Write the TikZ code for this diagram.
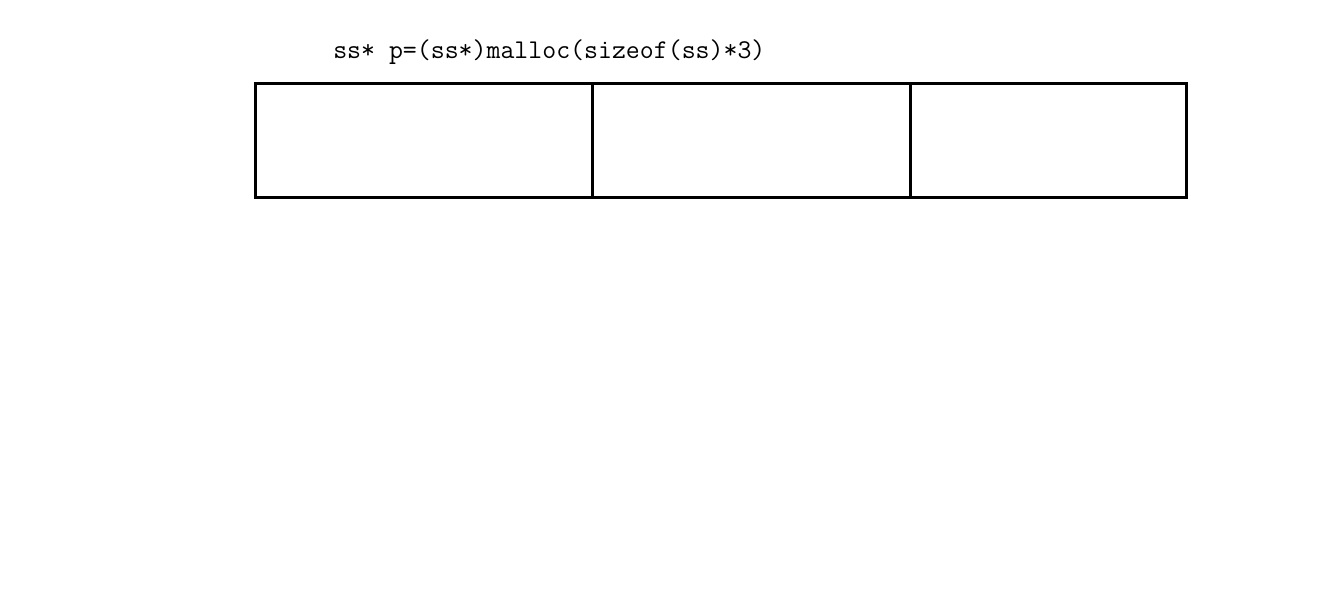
\documentclass[tikz,border=0pt]{standalone}
\usetikzlibrary{positioning}
\tikzset{cell/.style={draw,line width=2.25pt,minimum height=85.5pt,outer sep=0pt,inner sep=0pt},
code/.style={font=\ttfamily\fontsize{20.3}{23}\selectfont,inner sep=0pt}
}

\begin{document}
\begin{tikzpicture}[x=0.75pt,y=0.75pt]
            \useasboundingbox (0,0) rectangle (1336,616);
            \node[code,anchor=base west] (title) at (333,557) {ss* p=(ss*)malloc(sizeof(ss)*3)};
            \node[cell,minimum width=252.75pt,anchor=north west] (c_1) at (255,532) {};
            \node[cell,minimum width=238.5pt] (c_2) [right=0pt of c_1] {};
            \node[cell,minimum width=207pt] (c_3) [right=0pt of c_2] {};
        \end{tikzpicture}
\end{document}
